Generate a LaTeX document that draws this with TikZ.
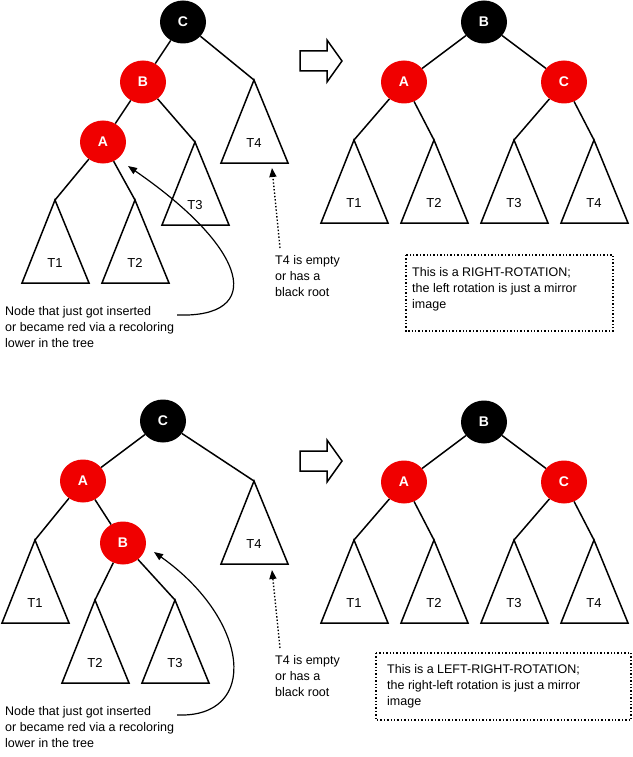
\documentclass[tikz,border=0pt]{standalone}
\usepackage{fontspec}
\setmainfont{Liberation Sans}
\usetikzlibrary{shapes.geometric,arrows.meta}

\tikzset{
  rbnode/.style={ellipse, minimum width=46pt, minimum height=43pt, inner sep=0pt,
    text=white, font=\fontsize{14}{15}\selectfont\bfseries},
  blk/.style={rbnode, fill=black},
  red/.style={rbnode, fill=rbred},
  edge/.style={line width=1.5pt},
  lbl/.style={font=\fontsize{12.5}{16}\selectfont, inner sep=0pt, align=left, anchor=north west},
}
\definecolor{rbred}{RGB}{240,0,0}

% subtree: name, apex x, apex y, label
\newcommand{\subtree}[4]{
  \coordinate (#1) at (#2,#3);
  \draw[edge] (#1) -- ++(-33,83) -- ++(67,0) -- cycle;
  \node[font=\fontsize{13}{16}\selectfont] (#1l) at (#2,#3+63) {#4};
}
% hollow arrow at x, y
\newcommand{\hollowarrow}[2]{
  \draw[line width=1.5pt] (#1,#2-10) -- (#1+27,#2-10) -- (#1+27,#2-21) -- (#1+42,#2)
    -- (#1+27,#2+21) -- (#1+27,#2+10) -- (#1,#2+10) -- cycle;
}

\begin{document}
\begin{tikzpicture}[x=1pt,y=-1pt]
\useasboundingbox (0,0) rectangle (632,757);

% top left
\node[blk] (c1) at (183,22) {C};
\node[red] (b1) at (143,82) {B};
\node[red] (a1) at (103,142) {A};
\subtree{t11}{55}{200}{T1}
\subtree{t21}{135}{200}{T2}
\subtree{t31}{195}{142}{T3}
\subtree{t41}{254}{80}{T4}
\draw[edge] (c1) -- (b1);
\draw[edge] (b1) -- (a1);
\draw[edge] (c1) -- (t41);
\draw[edge] (b1) -- (t31);
\draw[edge] (a1) -- (t11);
\draw[edge] (a1) -- (t21);

\node[lbl] (ins1) at (5,306) {Node that just got inserted\\or became red via a recoloring\\lower in the tree};
\draw[line width=1.2pt,-{Triangle[length=9pt,width=7pt]}] (ins1.north east) ++(3,9)
  .. controls (265,318) and (250,250) .. (128,166);
\node[lbl] (emp1) at (275,255) {T4 is empty\\or has a\\black root};
\draw[line width=1.4pt,dotted,-{Triangle[length=9pt,width=7pt]}] (280,248) -- (272,168);

% top right
\hollowarrow{300}{61}
\node[blk] (b2) at (484,22) {B};
\node[red] (a2) at (404,82) {A};
\node[red] (c2) at (564,82) {C};
\subtree{t12}{354}{140}{T1}
\subtree{t22}{434}{140}{T2}
\subtree{t32}{514}{140}{T3}
\subtree{t42}{594}{140}{T4}
\draw[edge] (b2) -- (a2);
\draw[edge] (b2) -- (c2);
\draw[edge] (a2) -- (t12);
\draw[edge] (a2) -- (t22);
\draw[edge] (c2) -- (t32);
\draw[edge] (c2) -- (t42);
\draw[line width=1.4pt,dotted] (406,255) rectangle (613,331);
\node[lbl] (box1) at (412,267) {This is a RIGHT-ROTATION;\\the left rotation is just a mirror\\image};

% bottom left
\node[blk] (c3) at (163,421) {C};
\node[red] (a3) at (83,481) {A};
\node[red] (b3) at (123,543) {B};
\subtree{t13}{35}{540}{T1}
\subtree{t23}{95}{600}{T2}
\subtree{t33}{175}{600}{T3}
\subtree{t43}{254}{481}{T4}
\draw[edge] (c3) -- (a3);
\draw[edge] (a3) -- (b3);
\draw[edge] (c3) -- (t43);
\draw[edge] (a3) -- (t13);
\draw[edge] (b3) -- (t23);
\draw[edge] (b3) -- (t33);

\node[lbl] (ins2) at (5,706) {Node that just got inserted\\or became red via a recoloring\\lower in the tree};
\draw[line width=1.2pt,-{Triangle[length=9pt,width=7pt]}] (ins2.north east) ++(3,9)
  .. controls (260,718) and (250,620) .. (154,552);
\node[lbl] (emp2) at (275,655) {T4 is empty\\or has a\\black root};
\draw[line width=1.4pt,dotted,-{Triangle[length=9pt,width=7pt]}] (280,648) -- (272,570);

% bottom right
\hollowarrow{300}{461}
\node[blk] (b4) at (484,422) {B};
\node[red] (a4) at (404,482) {A};
\node[red] (c4) at (564,482) {C};
\subtree{t14}{354}{540}{T1}
\subtree{t24}{434}{540}{T2}
\subtree{t34}{514}{540}{T3}
\subtree{t44}{594}{540}{T4}
\draw[edge] (b4) -- (a4);
\draw[edge] (b4) -- (c4);
\draw[edge] (a4) -- (t14);
\draw[edge] (a4) -- (t24);
\draw[edge] (c4) -- (t34);
\draw[edge] (c4) -- (t44);
\draw[line width=1.4pt,dotted] (376,653) rectangle (631,720);
\node[lbl] (box2) at (387,664) {This is a LEFT-RIGHT-ROTATION;\\the right-left rotation is just a mirror\\image};
\end{tikzpicture}
\end{document}
